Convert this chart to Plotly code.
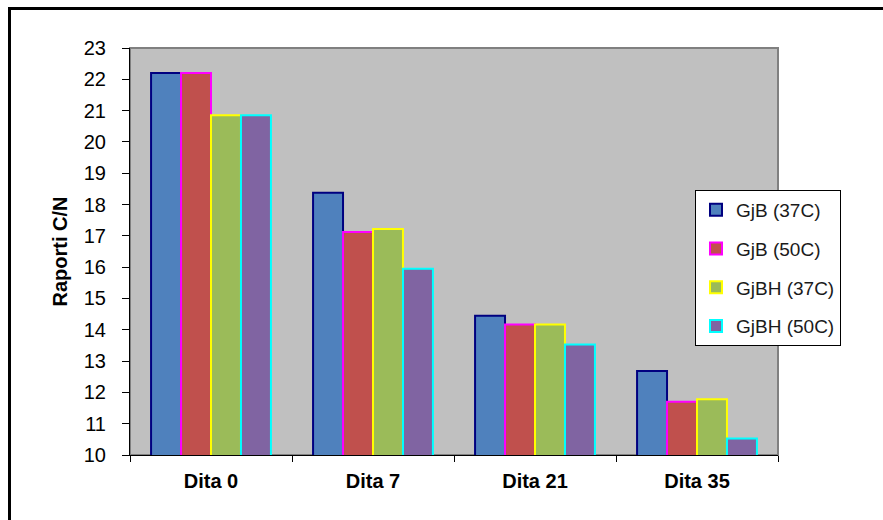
import plotly.graph_objects as go

categories = ["Dita 0", "Dita 7", "Dita 21", "Dita 35"]
series_names = ["GjB (37C)", "GjB (50C)", "GjBH (37C)", "GjBH (50C)"]
gjb_37 = [22.2, 18.38, 14.45, 12.68]
gjb_50 = [22.2, 17.12, 14.17, 11.7]
gjbh_37 = [20.85, 17.22, 14.17, 11.78]
gjbh_50 = [20.85, 15.95, 13.53, 10.53]
y_ticks = list(range(10, 24))

fills = ["#4F81BD", "#C0504D", "#9BBB59", "#8064A2"]
outlines = ["#000080", "#FF00FF", "#FFFF00", "#00FFFF"]
values = [gjb_37, gjb_50, gjbh_37, gjbh_50]

W, H = 883, 520
L, R, T, B = 130, 778, 48, 455

fig = go.Figure()
for i, (name, vals) in enumerate(zip(series_names, values)):
    fig.add_trace(go.Bar(
        x=categories, y=vals, name=name,
        marker=dict(color=fills[i], line=dict(color=outlines[i], width=2)),
        legendgroup=name,
    ))

def px_x(p):
    return (p - L) / (R - L)

def px_y(p):
    return (B - p) / (B - T)

font = "Liberation Sans, Arial, sans-serif"

fig.update_layout(
    width=W, height=H,
    margin=dict(l=L, r=W - R, t=T, b=H - B, pad=0),
    paper_bgcolor="white",
    plot_bgcolor="#C0C0C0",
    barmode="group",
    bargap=0.26,
    bargroupgap=0,
    font=dict(family=font, size=20, color="black"),
    showlegend=True,
    legend=dict(
        x=px_x(695), y=px_y(190), xanchor="left", yanchor="top",
        bgcolor="white", bordercolor="black", borderwidth=1,
        font=dict(family=font, size=19, color="#1a1a1a"),
        tracegroupgap=11, itemwidth=30,
    ),
    xaxis=dict(
        type="category",
        showline=True, linecolor="black", linewidth=1,
        ticks="outside", tickson="boundaries", ticklen=6, tickcolor="black",
        ticklabelstandoff=8,
        tickfont=dict(family=font, size=20, color="black", weight="bold"),
        showgrid=False, zeroline=False,
    ),
    yaxis=dict(
        range=[10, 23], tickvals=y_ticks,
        showline=True, linecolor="black", linewidth=1,
        ticks="outside", ticklen=7, tickcolor="black",
        ticklabelstandoff=12,
        tickfont=dict(family=font, size=20, color="black"),
        showgrid=False, zeroline=False,
        title=dict(text="Raporti C/N", font=dict(family=font, size=20, color="black", weight="bold"), standoff=10),
    ),
    shapes=[
        dict(type="rect", xref="paper", yref="paper", x0=0, x1=1, y0=0, y1=1,
             line=dict(color="#808080", width=2), layer="below"),
        dict(type="rect", xref="paper", yref="paper",
             x0=px_x(9.5), x1=px_x(W + 20), y0=px_y(H + 20), y1=px_y(8.5),
             line=dict(color="black", width=3), fillcolor="rgba(0,0,0,0)", layer="above"),
    ],
)

fig.write_html("out.html", config={"displayModeBar": False},
               post_script="document.body.style.margin='0';document.body.style.overflow='hidden';")
